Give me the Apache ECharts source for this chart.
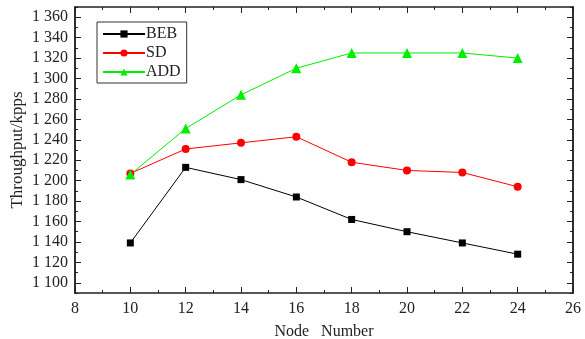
<!DOCTYPE html>
<html>
<head>
<meta charset="utf-8">
<script src="https://cdn.jsdelivr.net/npm/echarts@6/dist/echarts.min.js"></script>
<style>
html, body { margin: 0; padding: 0; background: #fff; }
#chart { width: 585px; height: 339px; }
</style>
</head>
<body>
<div id="chart"></div>
<script>
// node counts on x
const nodes = [10, 12, 14, 16, 18, 20, 22, 24]
// throughput (kpps)
const beb = [1139, 1213, 1201, 1184, 1162, 1150, 1139, 1128]
const sd = [1207, 1231, 1237, 1243, 1218, 1210, 1208, 1194]
const add = [1206, 1251, 1284, 1310, 1325, 1325, 1325, 1320]
// y ticks (labelled) and minor ticks between them
const yTicks = [1100, 1120, 1140, 1160, 1180, 1200, 1220, 1240, 1260, 1280, 1300, 1320, 1340, 1360]
const yMinor = [1090, 1110, 1130, 1150, 1170, 1190, 1210, 1230, 1250, 1270, 1290, 1310, 1330, 1350, 1370]

const font = `'Liberation Serif', 'DejaVu Serif', serif`
const axisColor = '#222'

function pair (xs, ys) {
  return xs.map((x, i) => [x, ys[i]])
}

function yAxisPart (pos, values, len, labels) {
  return {
    type: 'value',
    position: pos,
    min: 1090,
    max: 1370,
    axisLine: { show: true, onZero: false, lineStyle: { color: axisColor, width: 1.5 } },
    axisTick: { show: true, inside: true, length: len, customValues: values, lineStyle: { color: axisColor } },
    axisLabel: labels ? {
      show: true,
      customValues: values,
      margin: 7,
      padding: [6, 0, 0, 0],
      color: '#222',
      fontSize: 16,
      fontFamily: font,
      formatter: v => String(v).replace(/^(\d)(\d{3})$/, '$1 $2')
    } : { show: false },
    splitLine: { show: false }
  }
}

function xAxisPart (pos, labels) {
  return {
    type: 'value',
    position: pos,
    min: 8,
    max: 26,
    interval: 2,
    axisLine: { show: true, onZero: false, lineStyle: { color: axisColor, width: 1.5 } },
    axisTick: { show: true, inside: true, length: 6, lineStyle: { color: axisColor } },
    minorTick: { show: true, inside: true, splitNumber: 2, length: 3, lineStyle: { color: axisColor } },
    axisLabel: labels ? { show: true, margin: 8, color: '#222', fontSize: 16, fontFamily: font } : { show: false },
    splitLine: { show: false },
    minorSplitLine: { show: false }
  }
}

const chart = echarts.init(document.getElementById('chart'))
const bottomX = xAxisPart('bottom', true)
bottomX.name = 'Node   Number'
bottomX.nameLocation = 'middle'
bottomX.nameGap = 31
bottomX.nameMoveOverlap = false
bottomX.nameTextStyle = { color: '#222', fontSize: 16, fontFamily: font }

const leftY = yAxisPart('left', yTicks, 6, true)
leftY.name = 'Throughput/kpps'
leftY.nameLocation = 'middle'
leftY.nameGap = 49
leftY.nameMoveOverlap = false
leftY.nameTextStyle = { color: '#222', fontSize: 17, fontFamily: font }

chart.setOption({
  animation: false,
  backgroundColor: '#fff',
  grid: { left: 75, right: 12, top: 7, bottom: 46, containLabel: false, outerBoundsMode: 'none' },
  legend: {
    orient: 'vertical',
    left: 97,
    top: 22,
    padding: [4, 6, 3, 5],
    itemGap: 3,
    itemWidth: 42,
    itemHeight: 9,
    borderColor: '#333',
    borderWidth: 1,
    backgroundColor: '#fff',
    textStyle: { color: '#222', fontSize: 16, fontFamily: font, padding: [0, 0, 0, -4] },
    data: ['BEB', 'SD', 'ADD']
  },
  xAxis: [bottomX, xAxisPart('top', false)],
  yAxis: [
    leftY,
    yAxisPart('left', yMinor, 3, false),
    yAxisPart('right', yTicks, 6, false),
    yAxisPart('right', yMinor, 3, false)
  ],
  series: [
    {
      name: 'BEB', type: 'line', data: pair(nodes, beb),
      symbol: 'rect', symbolSize: 7,
      itemStyle: { color: '#000' }, lineStyle: { color: '#000', width: 1 }
    },
    {
      name: 'SD', type: 'line', data: pair(nodes, sd),
      symbol: 'circle', symbolSize: 8,
      itemStyle: { color: '#ff0000' }, lineStyle: { color: '#ff0000', width: 1 }
    },
    {
      name: 'ADD', type: 'line', data: pair(nodes, add),
      symbol: 'triangle', symbolSize: 10,
      itemStyle: { color: '#00ee00' }, lineStyle: { color: '#00ee00', width: 1 }
    }
  ]
})
</script>
</body>
</html>
